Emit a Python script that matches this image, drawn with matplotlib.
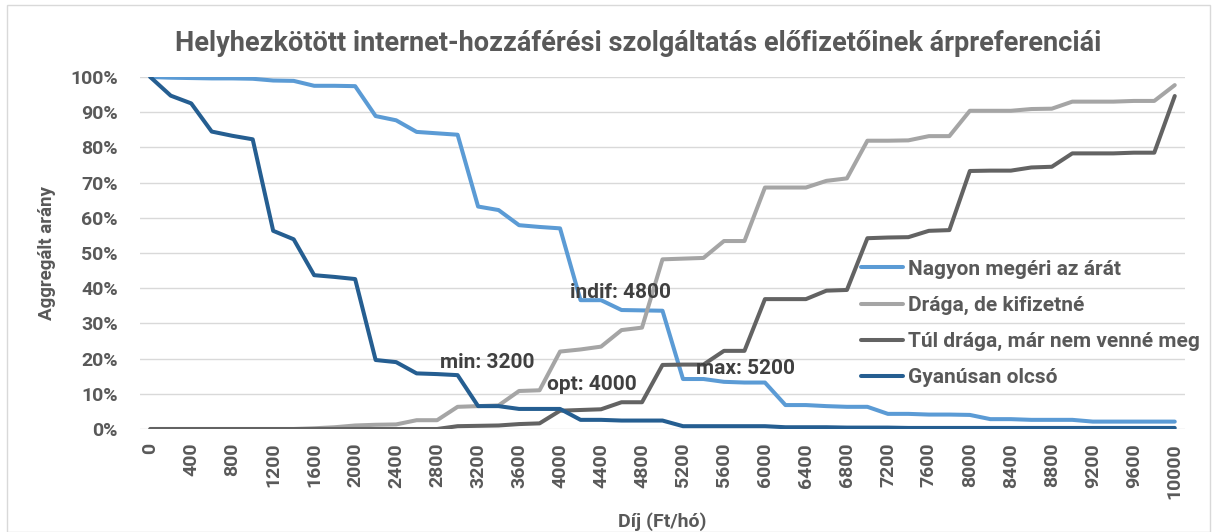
import matplotlib
matplotlib.use("Agg")
import matplotlib.pyplot as plt
from matplotlib.patches import Rectangle
from matplotlib.ticker import PercentFormatter

plt.rcParams['font.family'] = ['Roboto', 'DejaVu Sans']

fees = list(range(0, 10001, 200))
tick_labels = [str(f) for f in fees]

nagyon = [100, 99.8, 99.7, 99.6, 99.6, 99.5, 99.0, 98.9, 97.5, 97.5, 97.4,
          88.9, 87.7, 84.4, 84.0, 83.6, 63.2, 62.2, 57.9, 57.4, 57.0,
          36.6, 36.6, 33.8, 33.7, 33.6, 14.2, 14.2, 13.4, 13.2, 13.2,
          6.8, 6.8, 6.5, 6.3, 6.3, 4.3, 4.3, 4.1, 4.1, 4.0,
          2.8, 2.8, 2.6, 2.6, 2.6, 2.1, 2.1, 2.1, 2.1, 2.1]
draga = [0, 0, 0, 0, 0, 0, 0, 0, 0.2, 0.5, 1.0,
         1.2, 1.3, 2.5, 2.5, 6.3, 6.5, 6.7, 10.8, 11.0, 22.0,
         22.6, 23.4, 28.1, 28.8, 48.2, 48.4, 48.6, 53.4, 53.4, 68.6,
         68.6, 68.6, 70.5, 71.2, 81.9, 81.9, 82.0, 83.2, 83.2, 90.4,
         90.4, 90.4, 90.9, 91.0, 93.0, 93.0, 93.0, 93.2, 93.2, 97.7]
tul_draga = [0, 0, 0, 0, 0, 0, 0, 0, 0, 0, 0,
             0, 0, 0, 0, 0.8, 0.9, 1.0, 1.4, 1.6, 5.2,
             5.4, 5.6, 7.6, 7.6, 18.2, 18.3, 18.3, 22.2, 22.2, 36.9,
             36.9, 36.9, 39.3, 39.5, 54.2, 54.4, 54.5, 56.3, 56.5, 73.3,
             73.4, 73.4, 74.3, 74.5, 78.3, 78.3, 78.3, 78.5, 78.5, 94.6]
gyanusan = [100, 94.7, 92.5, 84.5, 83.3, 82.3, 56.3, 53.9, 43.7, 43.2, 42.6,
            19.6, 19.0, 15.8, 15.6, 15.3, 6.5, 6.5, 5.7, 5.7, 5.7,
            2.6, 2.6, 2.4, 2.4, 2.4, 0.8, 0.8, 0.8, 0.8, 0.8,
            0.5, 0.5, 0.5, 0.4, 0.4, 0.4, 0.3, 0.3, 0.3, 0.3,
            0.3, 0.3, 0.3, 0.3, 0.3, 0.3, 0.3, 0.3, 0.3, 0.3]

series_names = ["Nagyon megéri az árát", "Drága, de kifizetné",
                "Túl drága, már nem venné meg", "Gyanúsan olcsó"]
series_values = [nagyon, draga, tul_draga, gyanusan]
colors = ["#5B9BD5", "#A5A5A5", "#636363", "#255E91"]

annotations = [("min: 3200", 3200), ("opt: 4000", 4000),
               ("indif: 4800", 4800), ("max: 5200", 5200)]

text_color = "#595959"

fig = plt.figure(figsize=(12.12, 5.32), dpi=100)
ax = fig.add_axes([140 / 1212, 1 - 429 / 532, 1045 / 1212, 352 / 532])

x = list(range(len(fees)))
for name, vals, c in zip(series_names, series_values, colors):
    ax.plot(x, [v / 100 for v in vals], color=c, lw=2.9, label=name,
            solid_joinstyle='round', solid_capstyle='round')

ax.set_xlim(-0.5, len(fees) - 0.5)
ax.set_ylim(0, 1.0)
ax.set_yticks([i / 10 for i in range(11)])
ax.yaxis.set_major_formatter(PercentFormatter(1.0, decimals=0))
ax.set_xticks(x[::2])
ax.set_xticklabels(tick_labels[::2], rotation=90)
ax.grid(axis='y', color='#D9D9D9', lw=1)
ax.set_axisbelow(True)
for s in ax.spines.values():
    s.set_visible(False)
ax.tick_params(axis='both', length=0, colors=text_color, labelsize=14)
ax.tick_params(axis='y', pad=16)
ax.tick_params(axis='x', pad=10)
for lbl in ax.get_xticklabels() + ax.get_yticklabels():
    lbl.set_fontweight('bold')

ax.set_xlabel("Díj (Ft/hó)", fontsize=14, fontweight='bold', color=text_color, labelpad=10)
ax.set_ylabel("Aggregált arány", fontsize=13.5, fontweight='bold', color=text_color, labelpad=10)

# annotation label positions (pixel centers in the reference)
ann_pos = {"min: 3200": (487, 362), "opt: 4000": (592, 385),
           "indif: 4800": (621, 292), "max: 5200": (745, 369)}
for text, fee in annotations:
    px, py = ann_pos[text]
    fig.text(px / 1212, 1 - py / 532, text, ha='center', va='center',
             fontsize=15, fontweight='bold', color='#404040')

fig.suptitle("Helyhezkötött internet-hozzáférési szolgáltatás előfizetőinek árpreferenciái",
             x=638 / 1212, y=1 - 44 / 532, va='center', fontsize=19.5, fontweight='bold',
             color=text_color)

leg = ax.legend(loc='upper left', bbox_to_anchor=(842 / 1212, 1 - 241 / 532),
                bbox_transform=fig.transFigure, frameon=False, fontsize=15,
                handlelength=2.05, handletextpad=0.2, labelspacing=0.82)
for t in leg.get_texts():
    t.set_color(text_color)
    t.set_fontweight('bold')

fig.patches.append(Rectangle((7 / 1212, 0), 1203 / 1212, 1 - 5 / 532,
                             transform=fig.transFigure, fill=False,
                             edgecolor='#D9D9D9', lw=1))

fig.savefig("out.png", dpi=100)
